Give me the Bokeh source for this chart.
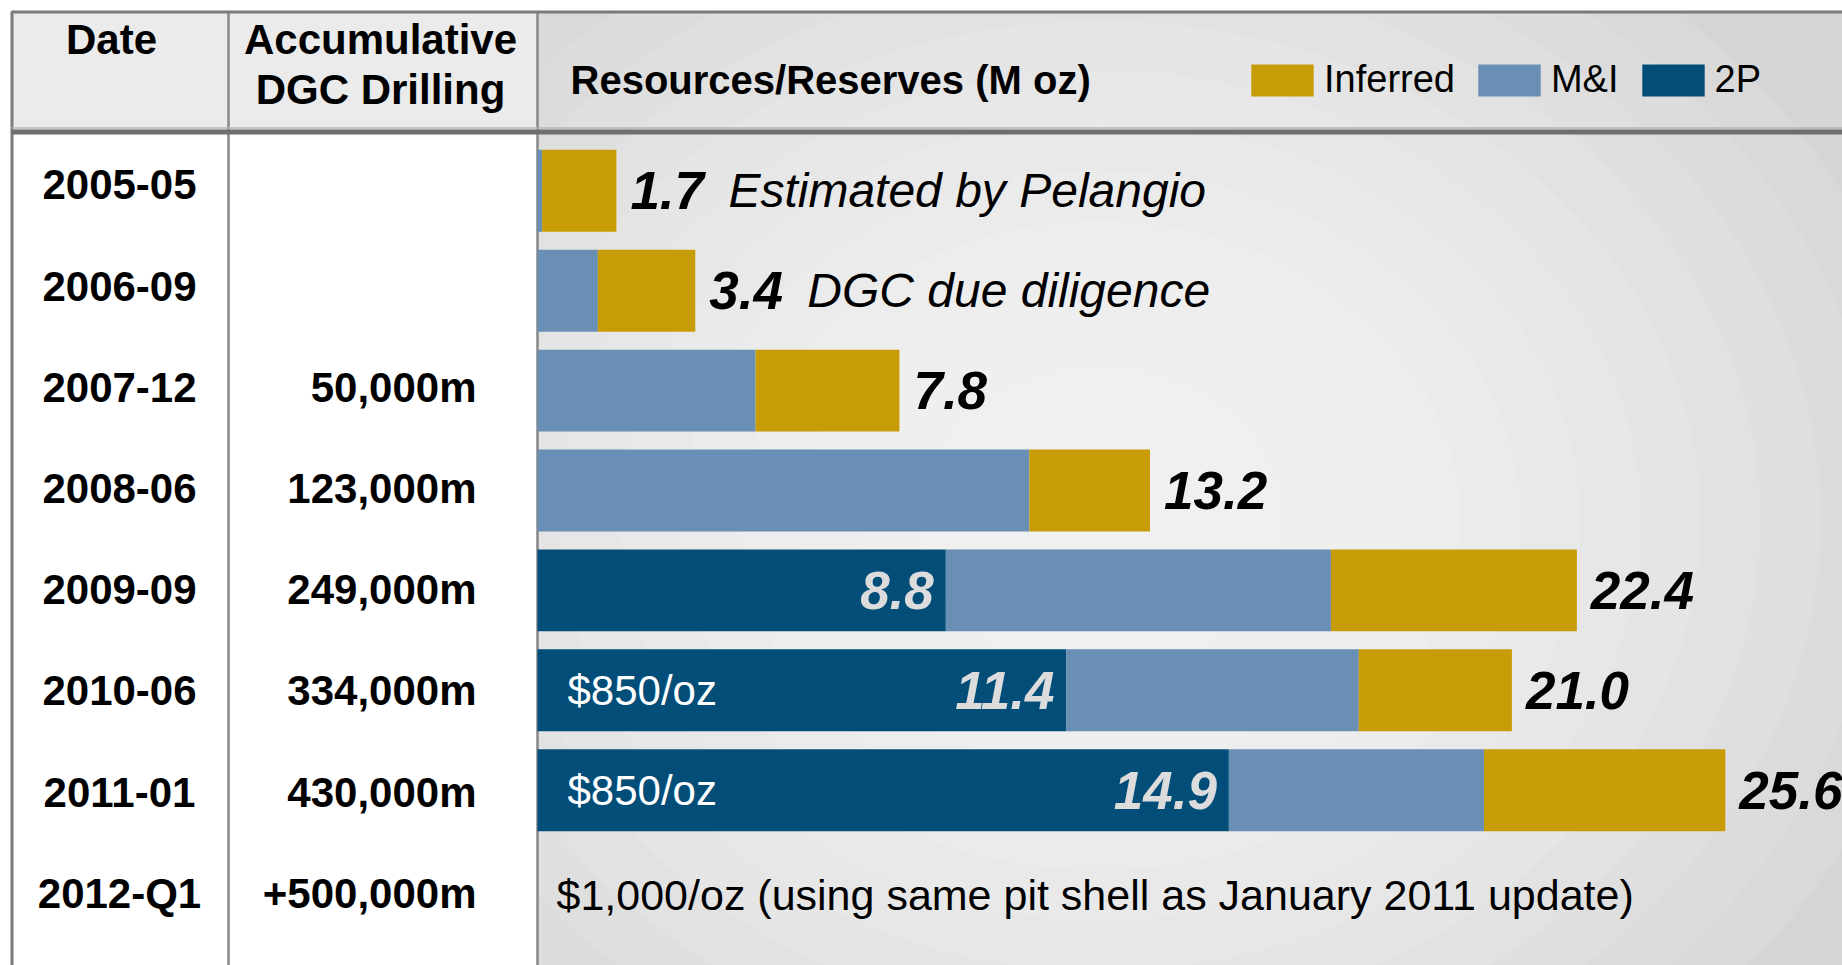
from bokeh.plotting import figure
from bokeh.models import Range1d, ColumnDataSource
from bokeh.core.properties import value
from bokeh.embed import file_html
from bokeh.resources import INLINE

# ---------------- data ----------------
dates = ["2005-05", "2006-09", "2007-12", "2008-06", "2009-09", "2010-06", "2011-01", "2012-Q1"]
drilling = ["", "", "50,000m", "123,000m", "249,000m", "334,000m", "430,000m", "+500,000m"]
two_p = [0, 0, 0, 0, 8.8, 11.4, 14.9]
m_and_i = [0.1, 1.3, 4.7, 10.6, 8.3, 6.3, 5.5]
inferred = [1.6, 2.1, 3.1, 2.6, 5.3, 3.3, 5.2]
totals = [1.7, 3.4, 7.8, 13.2, 22.4, 21.0, 25.6]
notes = ["Estimated by Pelangio", "DGC due diligence", "", "", "", "", ""]
price_tags = ["", "", "", "", "", "$850/oz", "$850/oz"]
footnote = "$1,000/oz (using same pit shell as January 2011 update)"
series = ["2P", "M&I", "Inferred"]
colors = ["#034E79", "#6A8FB4", "#C79C06"]
header_date = "Date"
header_drill = ["Accumulative", "DGC Drilling"]
header_res = "Resources/Reserves (M oz)"

# ---------------- layout helpers (page px -> data) ----------------
W, H = 1842, 965
S = 46.4      # px per M oz
X0 = 537      # px of x = 0
R = 99.9      # px per row
Y0 = 190.3    # px of row 0 centre


def X(px):
    return (px - X0) / S


def Y(py):
    return (py - Y0) / R


FONT = value("Liberation Sans")

p = figure(width=W, height=H, x_range=Range1d(X(0), X(W)),
           y_range=Range1d(Y(H), Y(0)), output_backend="svg",
           toolbar_location=None, min_border=0, x_axis_location=None,
           y_axis_location=None, outline_line_color=None,
           background_fill_color="white", border_fill_color="white")
p.grid.visible = False

# ---- background of the chart column (soft radial highlight) ----
p.quad(left=X(537), right=X(1900), top=Y(11), bottom=Y(1000),
       fill_color="#d5d5d5", line_color=None)
radii = [700, 650, 600, 550, 500, 450, 400, 350, 300, 250, 200, 150]
p.ellipse(x=X(1100), y=Y(520), width=[2.4 * r for r in radii],
          height=[2 * r for r in radii], width_units="screen",
          height_units="screen", fill_color="white", fill_alpha=0.1,
          line_color=None)
p.quad(left=X(0), right=X(1900), top=Y(-5), bottom=Y(10),
       fill_color="white", line_color=None)
p.quad(left=X(-5), right=X(537), top=Y(-5), bottom=Y(1000),
       fill_color="white", line_color=None)
p.quad(left=X(11), right=X(537), top=Y(11), bottom=Y(130),
       fill_color="#ebebeb", line_color=None)

# ---- table lines ----
p.segment(x0=[X(228), X(537)], y0=Y(11), x1=[X(228), X(537)], y1=Y(1000),
          line_color="#878787", line_width=2.5)
p.segment(x0=X(11.5), y0=Y(11), x1=X(11.5), y1=Y(1000),
          line_color="#7b7b7b", line_width=3)
p.segment(x0=X(11), y0=Y(11.5), x1=X(1900), y1=Y(11.5),
          line_color="#7b7b7b", line_width=3)
p.segment(x0=X(11), y0=Y(127.5), x1=X(1900), y1=Y(127.5),
          line_color="#b5b5b5", line_width=1.5)
p.segment(x0=X(11), y0=Y(131.5), x1=X(1900), y1=Y(131.5),
          line_color="#6f6f6f", line_width=5)

# ---- bars ----
src = ColumnDataSource(dict(y=list(range(len(totals))), two_p=two_p,
                            m_and_i=m_and_i, inferred=inferred))
p.hbar_stack(["two_p", "m_and_i", "inferred"], y="y", height=0.82,
             color=colors, line_color=None, source=src, legend_label=series)

leg = p.legend[0]
leg.items = leg.items[::-1]
leg.orientation = "horizontal"
leg.location = (1243, 864)
leg.background_fill_alpha = 0
leg.border_line_alpha = 0
leg.padding = 0
leg.margin = 0
leg.spacing = 15
leg.label_standoff = 3
leg.glyph_width = 78
leg.glyph_height = 40
leg.label_height = 40
leg.label_text_font = "Liberation Sans"
leg.label_text_font_size = "38px"
leg.label_text_baseline = "middle"
leg.label_text_color = "black"

# ---- header texts ----
p.text(x=X(111), y=Y(39), text=[header_date], text_font=FONT,
       text_font_size="42px", text_font_style="bold", text_align="center",
       text_baseline="middle")
p.text(x=X(380), y=[Y(39), Y(89)], text=header_drill, text_font=FONT,
       text_font_size="42px", text_font_style="bold", text_align="center",
       text_baseline="middle")
p.text(x=X(570), y=Y(79), text=[header_res], text_font=FONT,
       text_font_size="40px", text_font_style="bold", text_align="left",
       text_baseline="middle")

# ---- row labels ----
rows = list(range(len(dates)))
row_shift = [-6 + 1.3 * r for r in rows]
p.text(x=X(119), y=rows, text=dates, y_offset=row_shift, text_font=FONT,
       text_font_size="42px", text_font_style="bold", text_align="center",
       text_baseline="middle")
p.text(x=X(476), y=rows, text=drilling, y_offset=row_shift, text_font=FONT,
       text_font_size="42px", text_font_style="bold", text_align="right",
       text_baseline="middle")

# ---- value labels ----
bar_rows = list(range(len(totals)))
p.text(x=totals, y=bar_rows, text=[f"{t:.1f}" for t in totals], x_offset=14,
       text_font=FONT, text_font_size="53px", text_font_style="bold italic",
       text_align="left", text_baseline="middle", text_color="black")
p.text(x=totals, y=bar_rows, text=notes, x_offset=112, text_font=FONT,
       text_font_size="48px", text_font_style="italic", text_align="left",
       text_baseline="middle", text_color="black")
p.text(x=two_p, y=bar_rows, text=[f"{v:.1f}" if v else "" for v in two_p],
       x_offset=-12, text_font=FONT, text_font_size="53px",
       text_font_style="bold italic", text_align="right",
       text_baseline="middle", text_color="#dcdcdc")
p.text(x=0, y=bar_rows, text=price_tags, x_offset=30, text_font=FONT,
       text_font_size="42px", text_align="left", text_baseline="middle",
       text_color="white")
p.text(x=0, y=[len(dates) - 1], text=[footnote], x_offset=19, y_offset=5,
       text_font=FONT, text_font_size="43px", text_align="left",
       text_baseline="middle", text_color="black")

open("out.html", "w").write(file_html(p, INLINE))
